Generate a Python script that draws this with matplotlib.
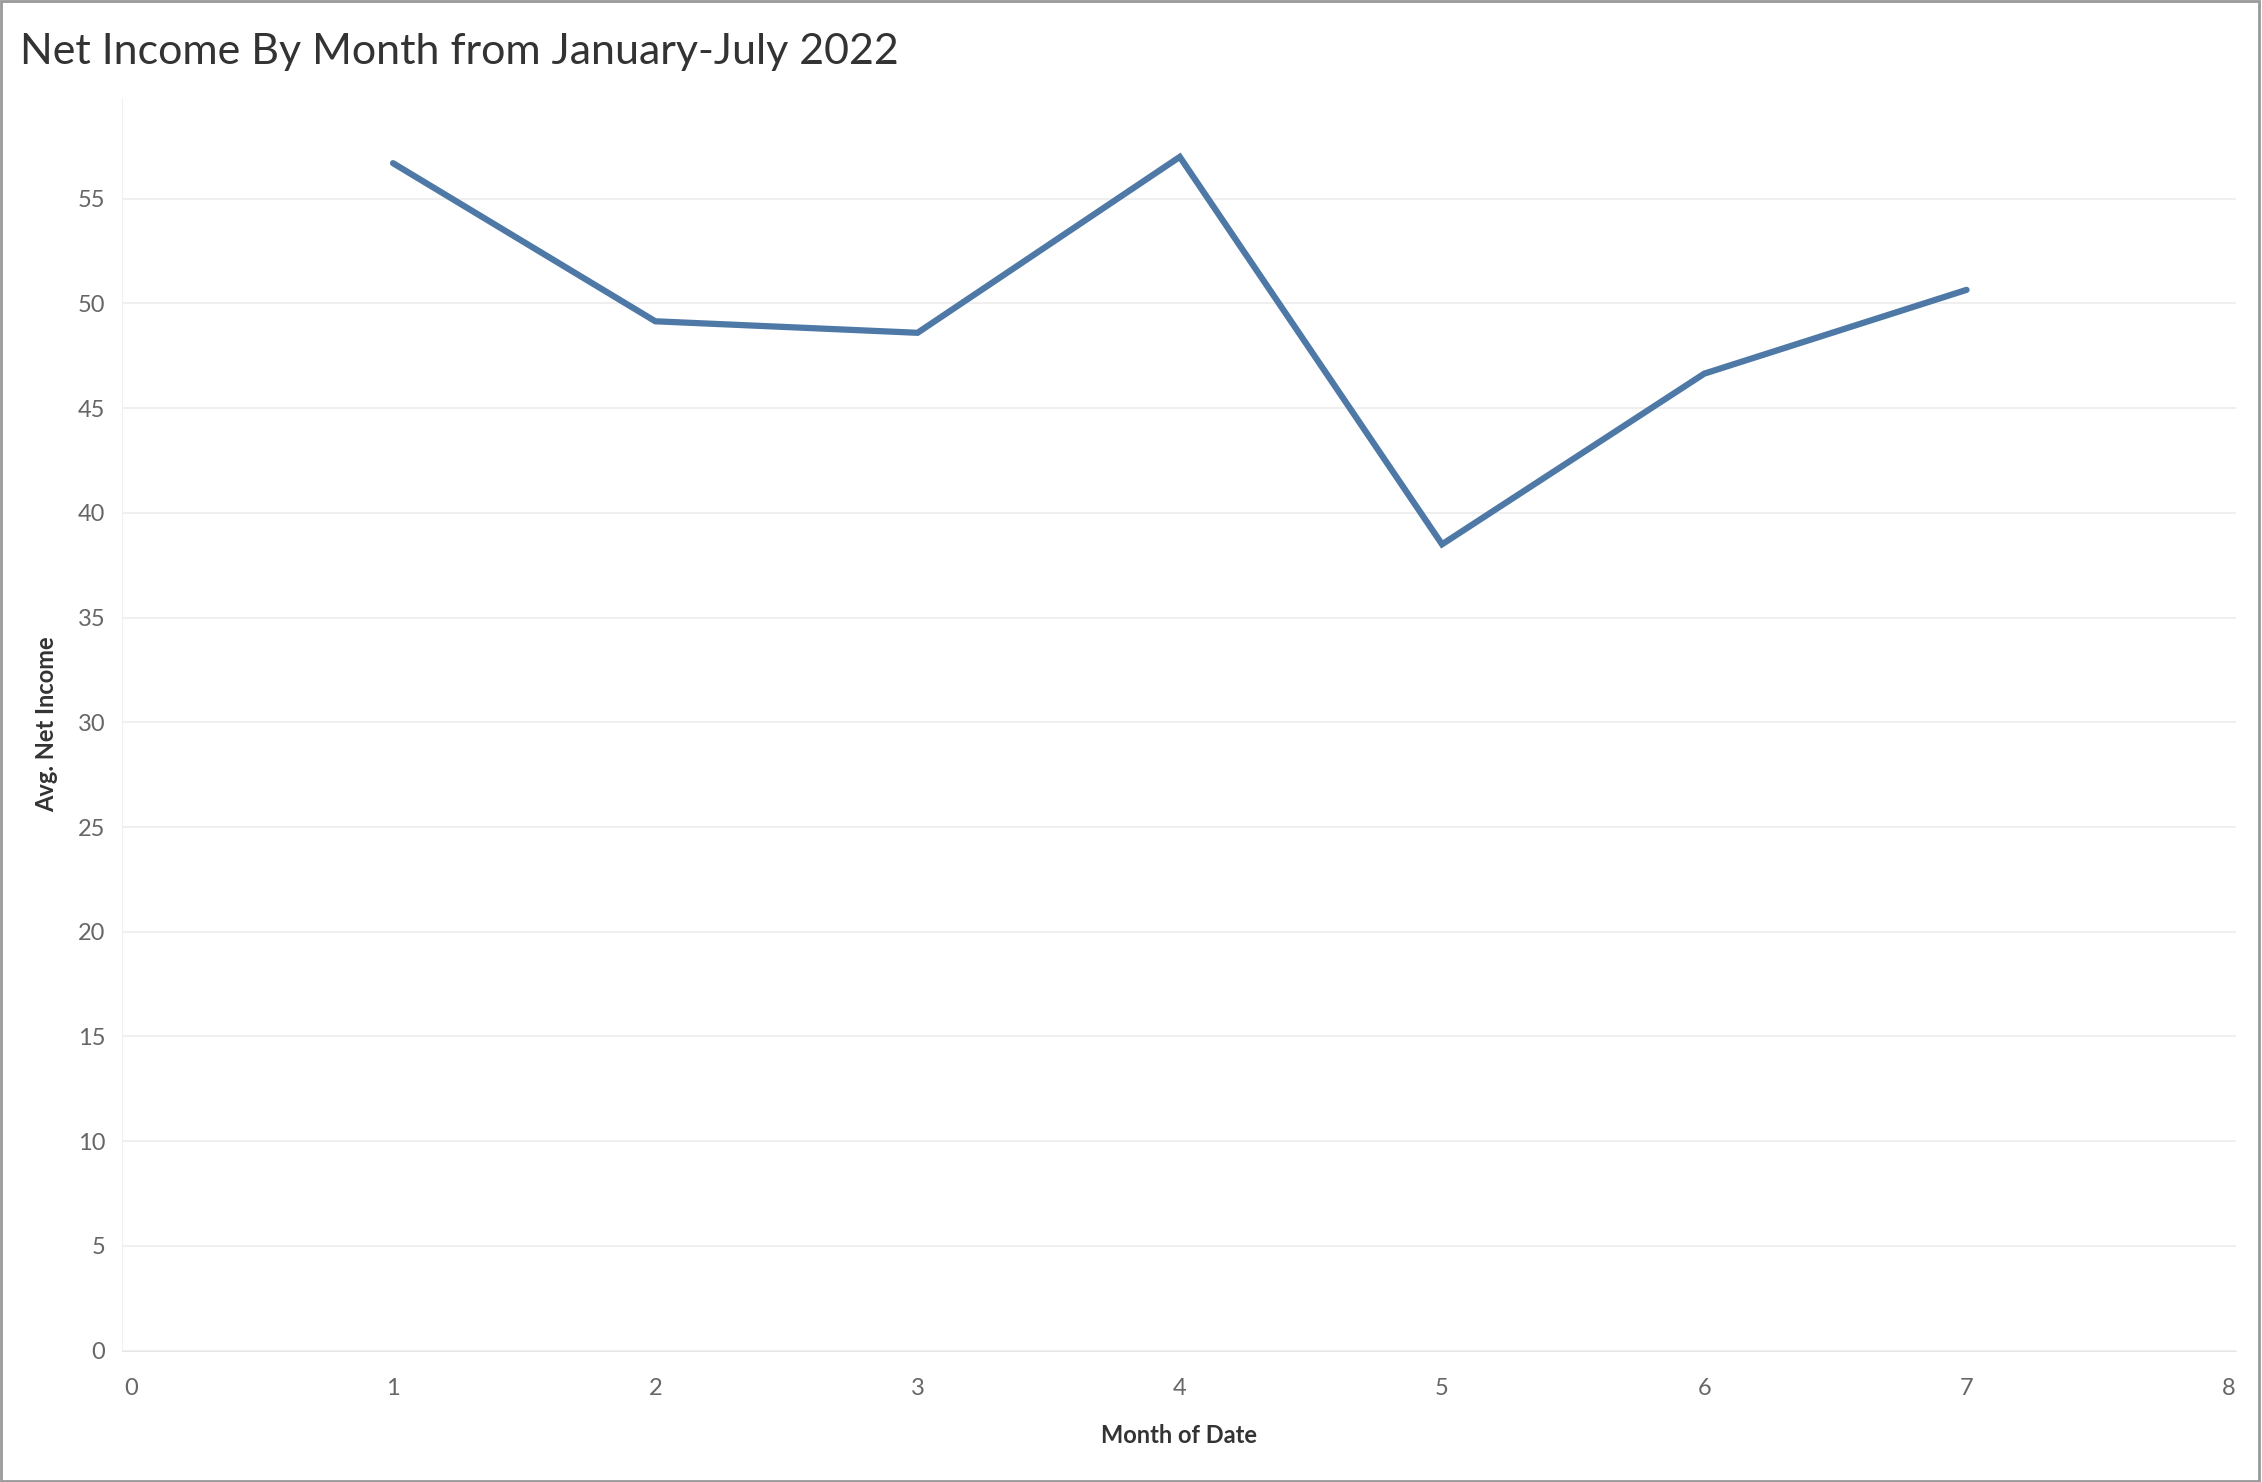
import matplotlib.pyplot as plt
from matplotlib.patches import Rectangle

months = [1, 2, 3, 4, 5, 6, 7]
net_income = [56.7, 49.15, 48.6, 57.0, 38.5, 46.65, 50.65]
y_ticks = list(range(0, 60, 5))
x_ticks = list(range(0, 9))

plt.rcParams["font.family"] = ["Lato", "DejaVu Sans"]

fig = plt.figure(figsize=(22.62, 14.82), dpi=100)
ax = fig.add_axes([0.054, 0.0887, 0.9345, 0.845])

for y in y_ticks:
    ax.axhline(y, color="#ececec", lw=1.2, zorder=0)
ax.plot(months, net_income, color="#4e79a7", lw=4.5, solid_capstyle="round", solid_joinstyle="miter")

ax.set_xlim(-0.033, 8.0275)
ax.set_ylim(0, 59.8)
ax.set_xticks(x_ticks)
ax.set_yticks(y_ticks)
ax.tick_params(axis="x", length=0, labelsize=17, labelcolor="#666666", pad=20)
ax.tick_params(axis="y", length=0, labelsize=17, labelcolor="#666666", pad=12)
for s in ["top", "right"]:
    ax.spines[s].set_visible(False)
ax.spines["left"].set_color("#f0f0f0")
ax.spines["bottom"].set_color("#e6e6e6")

ax.set_xlabel("Month of Date", fontsize=17, color="#333333", fontweight="bold", labelpad=18)
ax.set_ylabel("Avg. Net Income", fontsize=17, color="#333333", fontweight="bold", labelpad=14)

fig.text(0.009, 0.965, "Net Income By Month from January-July 2022", fontsize=31,
         color="#333333", va="center", ha="left")
fig.patches.append(Rectangle((0.0005, 0.001), 0.998, 0.998, transform=fig.transFigure,
                             fill=False, edgecolor="#999999", lw=2))

fig.savefig("out.png", dpi=100)
